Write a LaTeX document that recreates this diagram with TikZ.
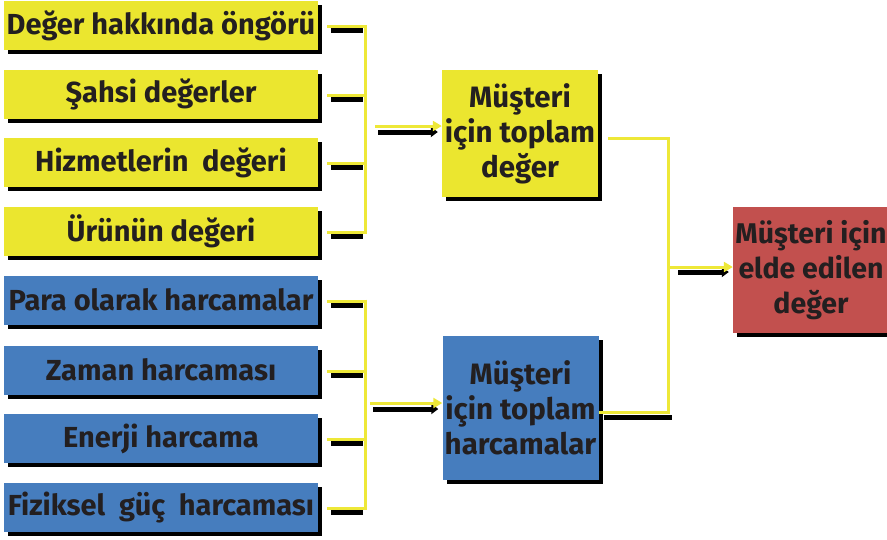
\documentclass[tikz,border=0pt]{standalone}
\usepackage{fontspec}
\setmainfont{Fira Sans}
\usetikzlibrary{calc,shadows,arrows.meta}
\definecolor{boxyellow}{HTML}{EBE62F}
\definecolor{boxblue}{HTML}{467DBE}
\definecolor{boxred}{HTML}{C2504E}
\definecolor{linkyellow}{HTML}{EEE838}
\definecolor{txt}{HTML}{231F20}
\tikzset{
  basebox/.style={draw=none, text=txt, font=\bfseries\fontsize{29}{33}\selectfont,
    inner sep=0pt, align=center,
    drop shadow={shadow xshift=4pt, shadow yshift=-4pt, fill=black, opacity=1}},
  ybox/.style={basebox, fill=boxyellow, minimum width=314pt, minimum height=49pt},
  bbox/.style={basebox, fill=boxblue, minimum width=314pt, minimum height=49pt},
  midbox/.style={basebox, minimum width=156pt, font=\bfseries\fontsize{29.5}{35}\selectfont},
  ylink/.style={draw=linkyellow, line width=3pt},
  klink/.style={draw=black, line width=5pt},
  yarrow/.style={ylink, -{Triangle[length=9pt,width=10pt]}, color=linkyellow},
  karrow/.style={klink, -{Triangle[length=7pt,width=10pt]}, color=black},
}
\begin{document}
\begin{tikzpicture}[x=1pt,y=-1pt]
\clip (0,0) rectangle (887,539);
\fill[white] (0,0) rectangle (887,539);
% left yellow boxes
\node[ybox] (y1) at (161,25.5) {Değer hakkında öngörü};
\node[ybox] (y2) at (161,94.5) {Şahsi değerler};
\node[ybox] (y3) at (161,162.5) {Hizmetlerin\ \ değeri};
\node[ybox] (y4) at (161,231) {Ürünün değeri};
% left blue boxes
\node[bbox] (b1) at (161,300) {Para olarak harcamalar};
\node[bbox] (b2) at (161,370) {Zaman harcaması};
\node[bbox] (b3) at (161,438.5) {Enerji harcama};
\node[bbox] (b4) at (161,507.5) {Fiziksel\ \ güç\ \ harcaması};
% middle boxes
\node[midbox, fill=boxyellow, minimum height=127pt] (ym) at (520,133.5) {Müşteri\\için toplam\\değer};
\node[midbox, fill=boxblue, minimum height=144pt] (bm) at (520.5,408) {Müşteri\\için toplam\\harcamalar};
% red box
\node[midbox, fill=boxred, minimum width=156pt, minimum height=126pt,
      font=\bfseries\fontsize{28.5}{35}\selectfont] (r) at (811,270) {Müşteri için\\elde edilen\\değer};
% bracket coordinates
\foreach \n in {y1,y2,y3,y4,b1,b2,b3,b4}{
  \coordinate (\n s) at ($(\n.east)+(9,1)$);
  \coordinate (\n e) at ($(\n.east)+(47,1)$);
}
% bracket shadows
\foreach \n in {y1,y2,y3,y4,b1,b2,b3,b4}{
  \draw[klink] ($(\n s)+(4,4)$) -- ($(\n e)+(-2,4)$);
}
\foreach \n in {y1,y2,y3,y4,b1,b2,b3,b4}{
  \draw[ylink] (\n s) -- (\n e);
}
\draw[ylink] ($(y1e)+(0,-1.5)$) -- ($(y4e)+(0,1.5)$);
\draw[ylink] ($(b1e)+(0,-1.5)$) -- ($(b4e)+(0,1.5)$);
% arrows into middle boxes
\coordinate (ya) at (375,126);
\coordinate (ba) at (370,403);
\draw[karrow] ($(ya)+(3,6)$) -- ($(ym.west|-ya)+(-4,6)$);
\draw[yarrow] (ya) -- (ym.west|-ya);
\draw[karrow] ($(ba)+(3,6)$) -- ($(bm.west|-ba)+(-4,6)$);
\draw[yarrow] (ba) -- (bm.west|-ba);
% right connector
\coordinate (rt) at (668,138);
\coordinate (rb) at (668,412);
\coordinate (ra) at (675,267);
\draw[klink] ($(bm.east|-rb)+(5,5)$) -- ($(rb)+(4,5)$);
\draw[ylink] ($(ym.east|-rt)+(10,0)$) -- (rt) -- (rb) -- (bm.east|-rb);
\draw[ylink] (rt|-ra) -- (ra);
\draw[karrow] ($(ra)+(3,5)$) -- ($(r.west|-ra)+(-4,5)$);
\draw[yarrow] (ra) -- (r.west|-ra);
\end{tikzpicture}
\end{document}
